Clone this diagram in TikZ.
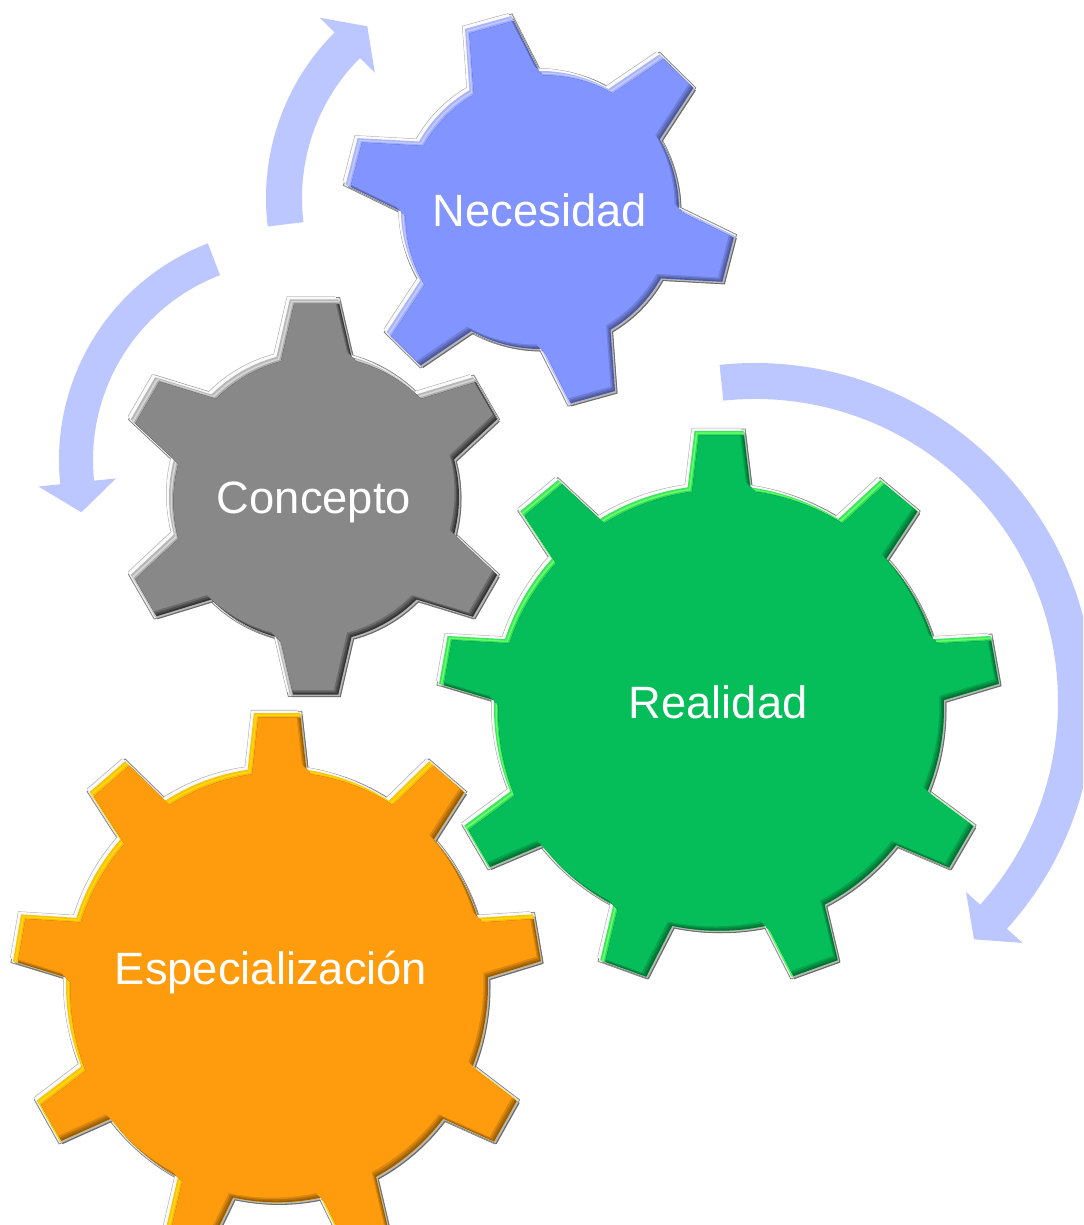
\documentclass[tikz,border=0pt]{standalone}
\usepackage{fontspec}
\setmainfont{Liberation Sans}
\definecolor{bluegear}{HTML}{8294FF}
\definecolor{graygear}{HTML}{888888}
\definecolor{greengear}{HTML}{05BD59}
\definecolor{orangegear}{HTML}{FF9C0E}
\definecolor{bentblue}{HTML}{BCC6FF}
\tikzstyle{gearlabel} = [text=white, anchor=base, inner sep=0pt, font=\fontsize{25.8}{30}\selectfont]
\tikzstyle{bent} = [fill=bentblue, draw=none]
\tikzstyle{rim} = [line join=miter]

% radius, tip radius, teeth, first tooth, half angle at base, half angle at tip
\newcommand{\gearshape}[6]{
  ({#4+#5}:#1) foreach \k in {1,...,#3} {
    -- ({#4-(\k-1)*360/#3+#6}:#2) -- ({#4-(\k-1)*360/#3-#6}:#2)
    -- ({#4-(\k-1)*360/#3-#5}:#1)
    arc[start angle={#4-(\k-1)*360/#3-#5}, delta angle={-360/#3+2*#5}, radius=#1]
  } -- cycle}
\newcommand{\bevelband}[1]{\fill [#1] (-400,-400) rectangle (400,400);}
% shape, main colour, highlight, shade
\newcommand{\drawgear}[4]{
  \draw [rim, black!50, line width=2.6pt] #1;
  \draw [rim, black!8, line width=1.6pt] #1;
  \fill [black!58, shift={(2.5,-2.5)}] #1;
  \fill [black!28, shift={(1.5,-1.5)}] #1;
  \fill [black!30, shift={(-3,3)}] #1;
  \fill [black!2, shift={(-2.5,2.5)}] #1;
  \begin{scope}
    \clip #1;
    \bevelband{#3!60!#2}
    \clip [shift={(1.5,-1.5)}] #1;
    \bevelband{#3}
    \clip [shift={(3,-3)}] #1;
    \bevelband{#3!45!#2}
    \clip [shift={(4.5,-4.5)}] #1;
    \bevelband{#4}
    \clip [shift={(-1.5,1.5)}] #1;
    \bevelband{#4!70!#2}
    \clip [shift={(-3,3)}] #1;
    \bevelband{#4!35!#2}
    \clip [shift={(-4.5,4.5)}] #1;
    \bevelband{#2}
  \end{scope}}
% inner, outer, from, to, barb in, barb out, tip angle, tip radius, barb angle
\newcommand{\bentarrow}[9]{
  \fill [bent] (#3:#1) arc[start angle=#3, end angle=#4, radius=#1]
    -- (#9:#5) -- (#7:#8) -- (#9:#6) -- (#4:#2)
    arc[start angle=#4, end angle=#3, radius=#2] -- cycle;}

\begin{document}
\begin{tikzpicture}[x=0.02cm, y=0.02cm]
    \clip [use as bounding box] (0,0) rectangle (1083,1225);

    % gears
    \begin{scope}[shift={(540,1015)}]
      \drawgear{\gearshape{139}{196}{6}{105.5}{15}{7}}{bluegear}{bluegear!50!white}{bluegear!60!black}
    \end{scope}
    \begin{scope}[shift={(314,728)}]
      \drawgear{\gearshape{145}{199}{6}{90}{15}{7}}{graygear}{white!65!graygear}{graygear!40!black}
    \end{scope}
    \begin{scope}[shift={(719,517)}, yscale=0.99]
      \drawgear{\gearshape{225}{281}{9}{90}{8}{5}}{greengear}{green!60!white}{greengear!60!black}
    \end{scope}
    \begin{scope}[shift={(277,240)}, yscale=1.03]
      \drawgear{\gearshape{211}{265}{9}{90}{8}{5}}{orangegear}{yellow!70!orangegear}{orangegear!60!black}
    \end{scope}

    % arrows
    \begin{scope}[shift={(500,1027)}]
      \bentarrow{198}{234}{187}{135}{177}{255}{127.7}{217}{135}
    \end{scope}
    \begin{scope}[shift={(291,765)}]
      \bentarrow{198}{232}{111}{186}{176}{254}{194}{216}{186}
    \end{scope}
    \begin{scope}[shift={(755,523)}]
      \bentarrow{303}{339}{96}{-42}{284}{360}{-47.3}{323}{-42}
    \end{scope}

    % labels
    \node [gearlabel] (necesidad) at (540,998) {Necesidad};
    \node [gearlabel] (concepto) at (314,711) {Concepto};
    \node [gearlabel] (realidad) at (718,506) {Realidad};
    \node [gearlabel] (especial) at (271,240) {Especialización};
\end{tikzpicture}
\end{document}
